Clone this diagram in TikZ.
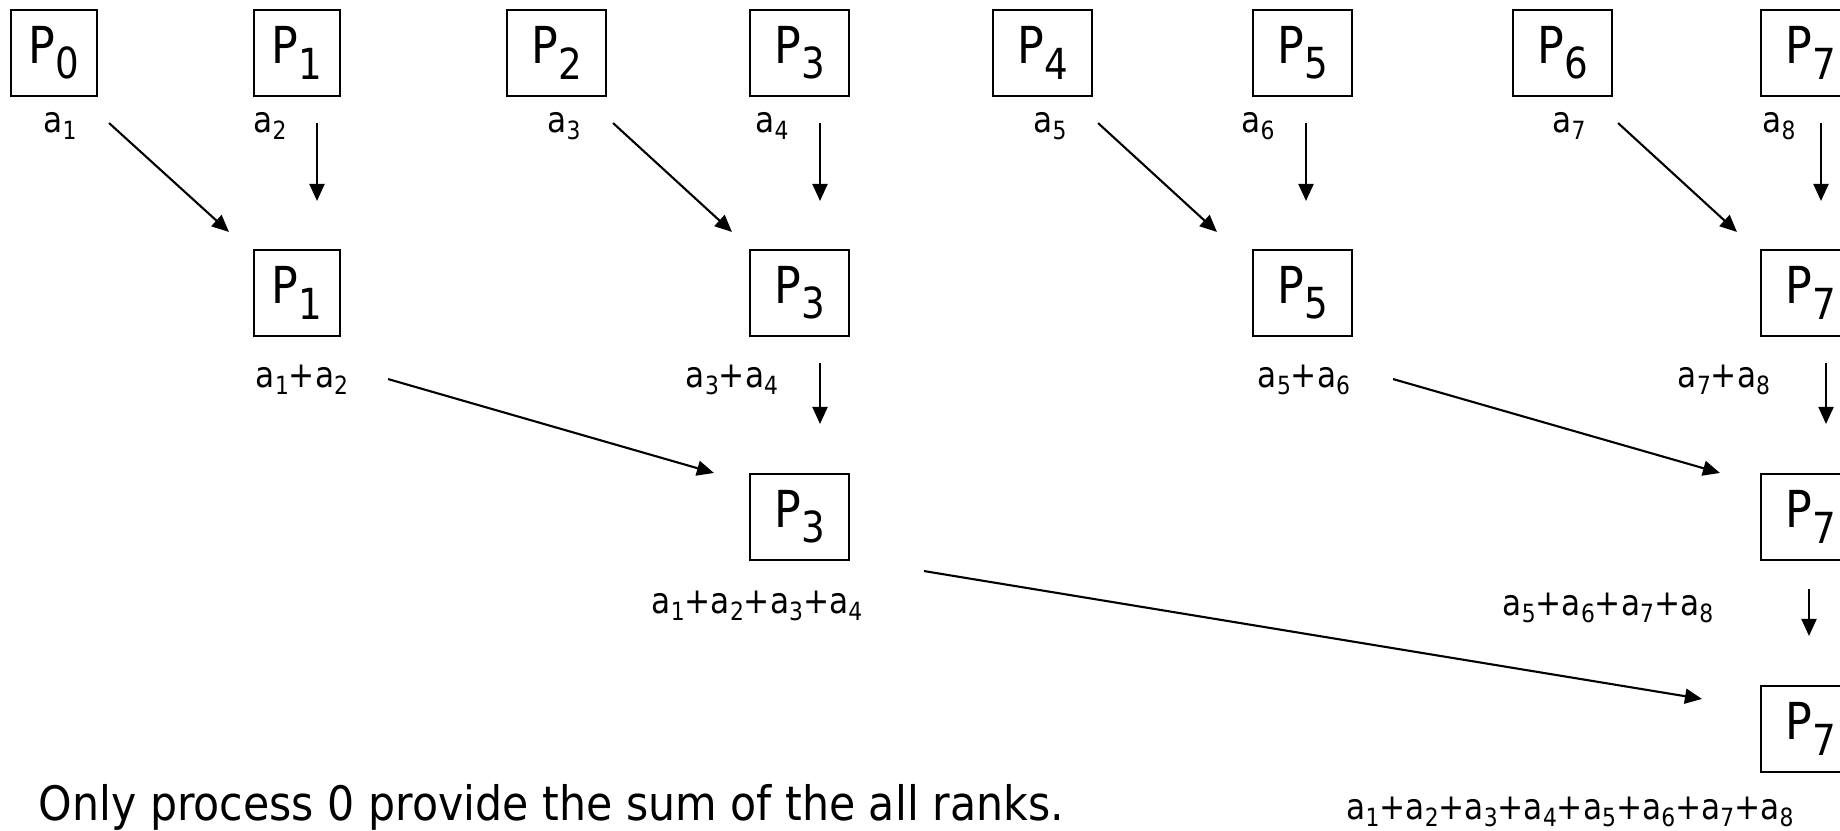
\documentclass[tikz,border=0pt]{standalone}
\usepackage{fontspec}
\setmainfont{DejaVu Sans}[FakeStretch=0.87]
\newfontfamily\notefont{DejaVu Sans}[FakeStretch=0.9]
\usetikzlibrary{arrows.meta, positioning, calc}
\newcommand{\ix}[1]{\raisebox{-0.2em}{\scalebox{0.7}{#1}}}
\newcommand{\pname}[1]{P\raisebox{-0.3em}{\scalebox{0.84}{#1}}}

\begin{document}
\begin{tikzpicture}[
    x=0.1mm, y=-0.1mm,
    pbox/.style={draw, line width=0.6pt, minimum width=9.9mm,
                 minimum height=8.6mm, inner sep=0pt,
                 font=\fontsize{14.5pt}{17pt}\selectfont},
    pnarrow/.style={pbox, minimum width=8.6mm},
    val/.style={anchor=base, inner sep=0pt,
                font=\fontsize{10.2pt}{12pt}\selectfont},
    arrow/.style={-{Triangle[length=1.7mm, width=1.5mm]}, line width=0.6pt},
    note/.style={anchor=base west, inner sep=0pt,
                 font=\notefont\fontsize{13.5pt}{16pt}\selectfont},
]
\path[use as bounding box, fill=white] (0,0) rectangle (1840,830);

% ── Row 1: all processes with their own values ─────────────────────────
\node[pnarrow] (p0) at (54,53)     {\pname{0}};
\node[pnarrow] (p1) at (297,53)    {\pname{1}};
\node[pbox]    (p2) at (556.5,53)  {\pname{2}};
\node[pbox]    (p3) at (799.5,53)  {\pname{3}};
\node[pbox]    (p4) at (1042.5,53) {\pname{4}};
\node[pbox]    (p5) at (1302.5,53) {\pname{5}};
\node[pbox]    (p6) at (1562.5,53) {\pname{6}};
\node[pbox]    (p7) at (1810.5,53) {\pname{7}};

\node[val] (v1) at (60,132)   {a\ix{1}};
\node[val] (v2) at (270,132)  {a\ix{2}};
\node[val] (v3) at (564,132)  {a\ix{3}};
\node[val] (v4) at (772,132)  {a\ix{4}};
\node[val] (v5) at (1050,132) {a\ix{5}};
\node[val] (v6) at (1258,132) {a\ix{6}};
\node[val] (v7) at (1569,132) {a\ix{7}};
\node[val] (v8) at (1779,132) {a\ix{8}};

% ── Row 2: pairwise sums ──────────────────────────────────────────────
\node[pnarrow] (s1p1) at (297,293)    {\pname{1}};
\node[pbox]    (s1p3) at (799.5,293)  {\pname{3}};
\node[pbox]    (s1p5) at (1302.5,293) {\pname{5}};
\node[pbox]    (s1p7) at (1810.5,293) {\pname{7}};

\node[val] (sum12) at (302,387)  {a\ix{1}+a\ix{2}};
\node[val] (sum34) at (732,387)  {a\ix{3}+a\ix{4}};
\node[val] (sum56) at (1304,387) {a\ix{5}+a\ix{6}};
\node[val] (sum78) at (1724,387) {a\ix{7}+a\ix{8}};

% ── Row 3: sums of four ───────────────────────────────────────────────
\node[pbox] (s2p3) at (799.5,517)  {\pname{3}};
\node[pbox] (s2p7) at (1810.5,517) {\pname{7}};

\node[val] (sum14) at (757,613)  {a\ix{1}+a\ix{2}+a\ix{3}+a\ix{4}};
\node[val] (sum58) at (1608,615) {a\ix{5}+a\ix{6}+a\ix{7}+a\ix{8}};

% ── Row 4: total ──────────────────────────────────────────────────────
\node[pbox] (s3p7) at (1810.5,729) {\pname{7}};

\node[val] (sum18) at (1570,819)
      {a\ix{1}+a\ix{2}+a\ix{3}+a\ix{4}+a\ix{5}+a\ix{6}+a\ix{7}+a\ix{8}};

\node[note] (note) at (38,820) {Only process 0 provide the sum of the all ranks.};

% ── Arrows ─────────────────────────────────────────────────────────────
\draw[arrow] ($(p0.south east)+(11,26)$) -- ($(s1p1.north west)+(-24,-17)$);
\draw[arrow] ($(p1.south)+(20,26)$)      -- ($(s1p1.north)+(20,-48)$);
\draw[arrow] ($(p2.south east)+(6,26)$)  -- ($(s1p3.north west)+(-17,-17)$);
\draw[arrow] ($(p3.south)+(20.5,26)$)    -- ($(s1p3.north)+(20.5,-48)$);
\draw[arrow] ($(p4.south east)+(5,26)$)  -- ($(s1p5.north west)+(-35,-17)$);
\draw[arrow] ($(p5.south)+(3.5,26)$)     -- ($(s1p5.north)+(3.5,-48)$);
\draw[arrow] ($(p6.south east)+(5,26)$)  -- ($(s1p7.north west)+(-23,-17)$);
\draw[arrow] ($(p7.south)+(10.5,26)$)    -- ($(s1p7.north)+(10.5,-48)$);

\draw[arrow] ($(s1p1.south east)+(47,42)$) -- ($(s2p3.north west)+(-35,0)$);
\draw[arrow] ($(s1p3.south)+(20.5,26)$)    -- ($(s2p3.north)+(20.5,-49)$);
\draw[arrow] ($(s1p5.south east)+(40,42)$) -- ($(s2p7.north west)+(-40,0)$);
\draw[arrow] ($(s1p7.south)+(15.5,26)$)    -- ($(s2p7.north)+(15.5,-49)$);

\draw[arrow] ($(s2p3.south east)+(74,10)$) -- ($(s3p7.north west)+(-58,14)$);
\draw[arrow] ($(s2p7.south)+(-1.5,28)$)    -- ($(s3p7.north)+(-1.5,-49)$);

\end{tikzpicture}
\end{document}
